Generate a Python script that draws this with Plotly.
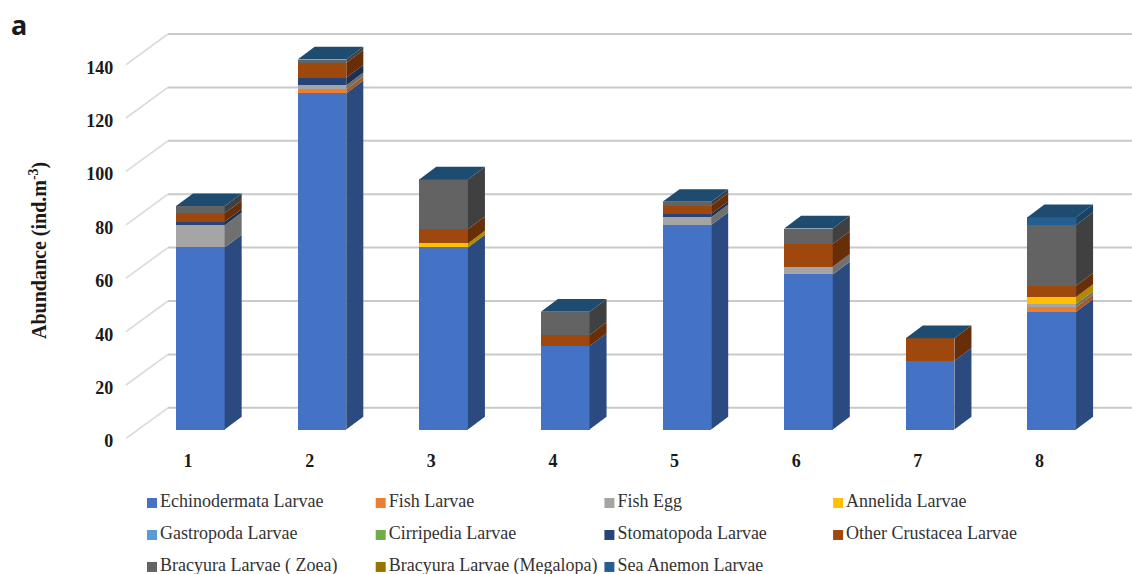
import plotly.graph_objects as go

# Sampling stations
stations = [1, 2, 3, 4, 5, 6, 7, 8]

# Abundance per taxon at each station (ind.m-3)
echinodermata = [68.2, 126.0, 68.2, 31.3, 76.6, 58.1, 25.8, 44.1]
fish_larvae = [0, 1.5, 0, 0, 0, 0, 0, 1.7]
fish_egg = [8.3, 1.5, 0, 0, 2.9, 2.9, 0, 1.2]
annelida = [0, 0, 1.5, 0, 0, 0, 0, 2.7]
gastropoda = [0, 0, 0, 0, 0, 0, 0, 0]
cirripedia = [0, 0, 0, 0, 0, 0, 0, 0]
stomatopoda = [1.3, 2.8, 0, 0, 1.2, 0, 0, 0]
other_crustacea = [3.2, 5.6, 5.3, 4.1, 3.1, 8.5, 8.4, 4.2]
zoea = [2.7, 1.2, 18.7, 8.7, 1.5, 5.8, 0, 22.7]
megalopa = [0, 0, 0, 0, 0, 0, 0, 0]
sea_anemone = [0, 0, 0, 0, 0, 0, 0, 2.9]

series_names = [
    "Echinodermata Larvae", "Fish Larvae", "Fish Egg", "Annelida Larvae",
    "Gastropoda Larvae", "Cirripedia Larvae", "Stomatopoda Larvae", "Other Crustacea Larvae",
    "Bracyura Larvae ( Zoea)", "Bracyura Larvae (Megalopa)", "Sea Anemon Larvae",
]
series_values = [
    echinodermata, fish_larvae, fish_egg, annelida,
    gastropoda, cirripedia, stomatopoda, other_crustacea,
    zoea, megalopa, sea_anemone,
]
front_colors = [
    "#4472C4", "#ED7D31", "#A5A5A5", "#FFC000",
    "#5B9BD5", "#70AD47", "#264478", "#9E480E",
    "#636363", "#997300", "#255E91",
]
side_colors = [
    "#2A4A80", "#A85A24", "#707070", "#B38700",
    "#3F6F9C", "#4E7A32", "#1A2F54", "#682E08",
    "#404040", "#6B5000", "#1A4266",
]
top_color = "#1E4B70"

y_ticks = [0, 20, 40, 60, 80, 100, 120, 140]
grid_color = "#C9C9C9"
serif = "Liberation Serif"
label_color = "#1a1a1a"

# Extent of the shared axes, and the pseudo-3D depth of bars and back wall
X_RANGE = [-0.647, 8.66]
Y_RANGE = [-54.1, 160.9]
BAR_WIDTH = 0.4
BAR_DX, BAR_DY = 0.14, 4.76
WALL_X0, WALL_X1, WALL_X_END = 0.389, 0.734, 8.66
WALL_FRONT, WALL_BACK = -3.3, 8.16
KEY_TEXT_GAP = 0.035

fig = go.Figure()

# Front faces of the stacked columns
for name, values, color in zip(series_names, series_values, front_colors):
    fig.add_trace(go.Bar(x=stations, y=values, name=name, width=BAR_WIDTH,
                         marker=dict(color=color, line_width=0), showlegend=False))

# Right-hand faces, one polygon per stacked segment
totals = [0.0] * len(stations)
for name, values, color in zip(series_names, series_values, side_colors):
    xs, ys = [], []
    for i, (st, v) in enumerate(zip(stations, values)):
        if v > 0:
            r = st + BAR_WIDTH / 2
            b, t = totals[i], totals[i] + v
            xs += [r, r + BAR_DX, r + BAR_DX, r, r, None]
            ys += [b, b + BAR_DY, t + BAR_DY, t, b, None]
        totals[i] += v
    if xs:
        fig.add_trace(go.Scatter(x=xs, y=ys, mode="none", fill="toself", fillcolor=color,
                                 hoverinfo="skip", showlegend=False))

# Top faces of the columns
top_x, top_y = [], []
for st, t in zip(stations, totals):
    l, r = st - BAR_WIDTH / 2, st + BAR_WIDTH / 2
    top_x += [l, r, r + BAR_DX, l + BAR_DX, l, None]
    top_y += [t, t, t + BAR_DY, t + BAR_DY, t, None]
fig.add_trace(go.Scatter(x=top_x, y=top_y, mode="none", fill="toself", fillcolor=top_color,
                         hoverinfo="skip", showlegend=False))

# Back wall rules and the slanted side-wall rules, kept beneath the columns
shapes = []
for tick in y_ticks:
    shapes.append(dict(type="line", xref="x", yref="y", layer="below",
                       x0=WALL_X1, x1=WALL_X_END, y0=tick + WALL_BACK, y1=tick + WALL_BACK,
                       line=dict(color=grid_color, width=2)))
    shapes.append(dict(type="line", xref="x", yref="y", layer="below",
                       x0=WALL_X0, x1=WALL_X1, y0=tick + WALL_FRONT, y1=tick + WALL_BACK,
                       line=dict(color="#DADADA", width=1.6)))

# Invisible carrier so the axes holding the tick labels get drawn
fig.add_trace(go.Scatter(x=stations, y=y_ticks, xaxis="x2", yaxis="y2", mode="markers",
                         marker=dict(opacity=0), hoverinfo="skip", showlegend=False))

# Key: swatch and label per taxon on a column/row grid
for k, (name, color) in enumerate(zip(series_names, front_colors)):
    col, row = k % 4, k // 4
    fig.add_trace(go.Scatter(x=[col], y=[row], xaxis="x3", yaxis="y3", mode="markers",
                             marker=dict(symbol="square", size=10, color=color),
                             hoverinfo="skip", showlegend=False))
    fig.add_trace(go.Scatter(x=[col + KEY_TEXT_GAP], y=[row], xaxis="x3", yaxis="y3", mode="text",
                             text=[name], textposition="middle right",
                             textfont=dict(family=serif, size=18, color="#333333"),
                             hoverinfo="skip", showlegend=False))

hidden = dict(showgrid=False, zeroline=False, showline=False, showticklabels=False, ticks="")
tick_font = dict(family=serif, size=18, color=label_color, weight="bold")
fig.update_layout(
    width=1132, height=574,
    margin=dict(l=0, r=0, t=0, b=0),
    paper_bgcolor="white", plot_bgcolor="white",
    barmode="stack",
    shapes=shapes,
    showlegend=False,
    xaxis=dict(range=X_RANGE, **hidden),
    yaxis=dict(range=Y_RANGE, **hidden),
    xaxis2=dict(range=[X_RANGE[0] + 0.101, X_RANGE[1] + 0.101], overlaying="x", anchor="free",
                position=0.219, tickvals=stations, showgrid=False, zeroline=False, showline=False,
                ticks="", tickfont=tick_font),
    yaxis2=dict(range=[Y_RANGE[0] + 4.3, Y_RANGE[1] + 4.3], overlaying="y", anchor="free",
                position=0.1, tickvals=y_ticks, showgrid=False, zeroline=False, showline=False,
                ticks="", tickfont=tick_font),
    xaxis3=dict(range=[-0.6646, 4.285], overlaying="x", anchor="y3", **hidden),
    yaxis3=dict(range=[2.22, -15.72], overlaying="y", anchor="x3", **hidden),
    annotations=[
        dict(text="Abundance (ind.m<sup>-3</sup>)", xref="paper", yref="paper", x=38 / 1132,
             y=1 - 251 / 574, textangle=-90, showarrow=False, xanchor="center", yanchor="middle",
             font=dict(family=serif, size=20, color=label_color, weight="bold")),
        dict(text="a", xref="paper", yref="paper", x=19 / 1132, y=1 - 25 / 574, showarrow=False,
             xanchor="center", yanchor="middle",
             font=dict(family="Noto Sans", size=27, color=label_color, weight="bold")),
    ],
)

fig.write_html("out.html")
